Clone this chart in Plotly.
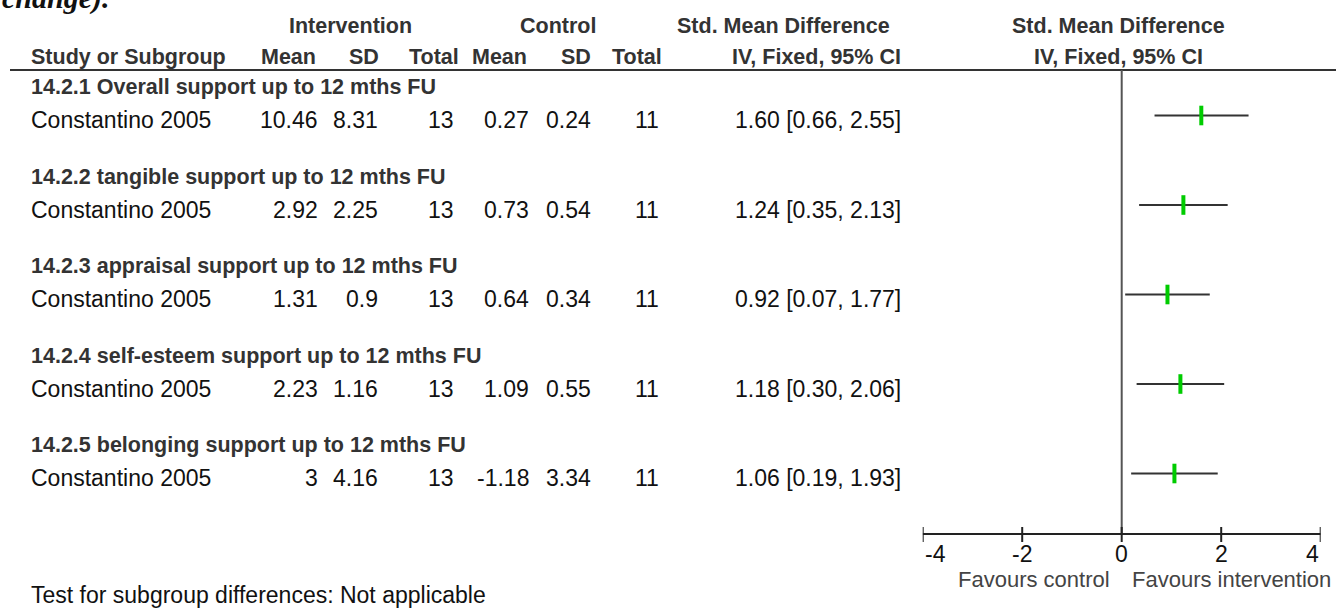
import plotly.graph_objects as go

# ---------------- data ----------------
subgroups = [
    "14.2.1 Overall support up to 12 mths FU",
    "14.2.2 tangible support up to 12 mths FU",
    "14.2.3 appraisal support up to 12 mths FU",
    "14.2.4 self-esteem support up to 12 mths FU",
    "14.2.5 belonging support up to 12 mths FU",
]
studies = ["Constantino 2005"] * 5
int_mean = ["10.46", "2.92", "1.31", "2.23", "3"]
int_sd = ["8.31", "2.25", "0.9", "1.16", "4.16"]
int_total = ["13", "13", "13", "13", "13"]
ctl_mean = ["0.27", "0.73", "0.64", "1.09", "-1.18"]
ctl_sd = ["0.24", "0.54", "0.34", "0.55", "3.34"]
ctl_total = ["11", "11", "11", "11", "11"]
smd = [1.60, 1.24, 0.92, 1.18, 1.06]
ci_low = [0.66, 0.35, 0.07, 0.30, 0.19]
ci_high = [2.55, 2.13, 1.77, 2.06, 1.93]
axis_ticks = [-4, -2, 0, 2, 4]
axis_labels = ["-4", "-2", "0", "2", "4"]

# ---------------- layout constants ----------------
W, H = 1336, 608
FONT = "Liberation Sans"
REG = dict(family=FONT, size=23, color="#111111")
BOLD = dict(family=FONT, size=21.5, color="#333333")
ROW0, ROWSTEP = 120, 89.5
AXIS_Y = 534
HEADER_LINE_Y = 70


def row_y(i):
    return ROW0 + ROWSTEP * i


def px(x):
    return x / W


fig = go.Figure()

# CI lines + point estimates
ys = [row_y(i) - 4.5 for i in range(len(smd))]
fig.add_trace(go.Scatter(
    x=smd, y=ys, mode="markers",
    marker=dict(symbol="line-ns", size=14, color="rgb(0,204,0)",
                line=dict(width=4, color="rgb(0,204,0)")),
    error_x=dict(type="data", symmetric=False,
                 array=[h - m for h, m in zip(ci_high, smd)],
                 arrayminus=[m - l for m, l in zip(smd, ci_low)],
                 color="#333333", thickness=2, width=0),
    hoverinfo="skip", showlegend=False,
))

shapes = []
# header rule
shapes.append(dict(type="line", xref="paper", yref="y", x0=px(10), x1=1,
                   y0=HEADER_LINE_Y, y1=HEADER_LINE_Y, line=dict(color="#333333", width=2)))
# line of no effect
shapes.append(dict(type="line", xref="x", yref="y", x0=0, x1=0,
                   y0=HEADER_LINE_Y, y1=AXIS_Y, line=dict(color="#555555", width=2)))
# axis line and ticks
shapes.append(dict(type="line", xref="x", yref="y", x0=axis_ticks[0], x1=axis_ticks[-1],
                   y0=AXIS_Y, y1=AXIS_Y, line=dict(color="#222222", width=2)))
for t in axis_ticks:
    shapes.append(dict(type="line", xref="x", yref="y", x0=t, x1=t,
                       y0=AXIS_Y - 7, y1=AXIS_Y + 8, line=dict(color="#222222", width=2)))

ann = []


def text(x, y, s, anchor="left", font=REG):
    ann.append(dict(x=px(x), y=y, xref="paper", yref="y", text=s, showarrow=False,
                    xanchor=anchor, yanchor="middle", font=font))


# cut-off title fragment at the top (partly above the page)
ann.append(dict(x=0, y=1 + 2.5 / H, xref="paper", yref="paper", text="<i><b>change).</b></i>",
                showarrow=False, xanchor="left", yanchor="middle",
                font=dict(family="Liberation Serif", size=30, color="#111111")))

# header row 1
text(350, 26, "<b>Intervention</b>", "center", BOLD)
text(558, 26, "<b>Control</b>", "center", BOLD)
text(783, 26, "<b>Std. Mean Difference</b>", "center", BOLD)
text(1118, 26, "<b>Std. Mean Difference</b>", "center", BOLD)
# header row 2
text(29, 57, "<b>Study or Subgroup</b>", "left", BOLD)
text(318, 57, "<b>Mean</b>", "right", BOLD)
text(381, 57, "<b>SD</b>", "right", BOLD)
text(461, 57, "<b>Total</b>", "right", BOLD)
text(529, 57, "<b>Mean</b>", "right", BOLD)
text(593, 57, "<b>SD</b>", "right", BOLD)
text(664, 57, "<b>Total</b>", "right", BOLD)
text(903, 57, "<b>IV, Fixed, 95% CI</b>", "right", BOLD)
text(1118, 57, "<b>IV, Fixed, 95% CI</b>", "center", BOLD)

for i in range(len(subgroups)):
    y = row_y(i)
    text(29, y - 33, "<b>" + subgroups[i] + "</b>", "left", BOLD)
    text(29, y, studies[i], "left")
    text(320, y, int_mean[i], "right")
    text(380, y, int_sd[i], "right")
    text(456, y, int_total[i], "right")
    text(531, y, ctl_mean[i], "right")
    text(593, y, ctl_sd[i], "right")
    text(661, y, ctl_total[i], "right")
    text(903, y, f"{smd[i]:.2f} [{ci_low[i]:.2f}, {ci_high[i]:.2f}]", "right")

# axis tick labels
for t, lab in zip(axis_ticks, axis_labels):
    anchor = "left" if t == axis_ticks[0] else ("right" if t == axis_ticks[-1] else "center")
    ann.append(dict(x=t, y=554, xref="x", yref="y", text=lab, showarrow=False,
                    xanchor=anchor, yanchor="middle", font=REG))

FAV = dict(family=FONT, size=22, color="#444444")
text(1112, 579, "Favours control", "right", FAV)
text(1130, 579, "Favours intervention", "left", FAV)
text(29, 595, "Test for subgroup differences: Not applicable", "left", REG)

fig.update_layout(
    width=W, height=H,
    margin=dict(l=0, r=0, t=0, b=0),
    paper_bgcolor="white", plot_bgcolor="white",
    xaxis=dict(domain=[922.7 / W, 1320.7 / W], range=[-4, 4], visible=False),
    yaxis=dict(domain=[0, 1], range=[H, 0], visible=False),
    shapes=shapes, annotations=ann, showlegend=False,
)

fig.write_html("out.html")
